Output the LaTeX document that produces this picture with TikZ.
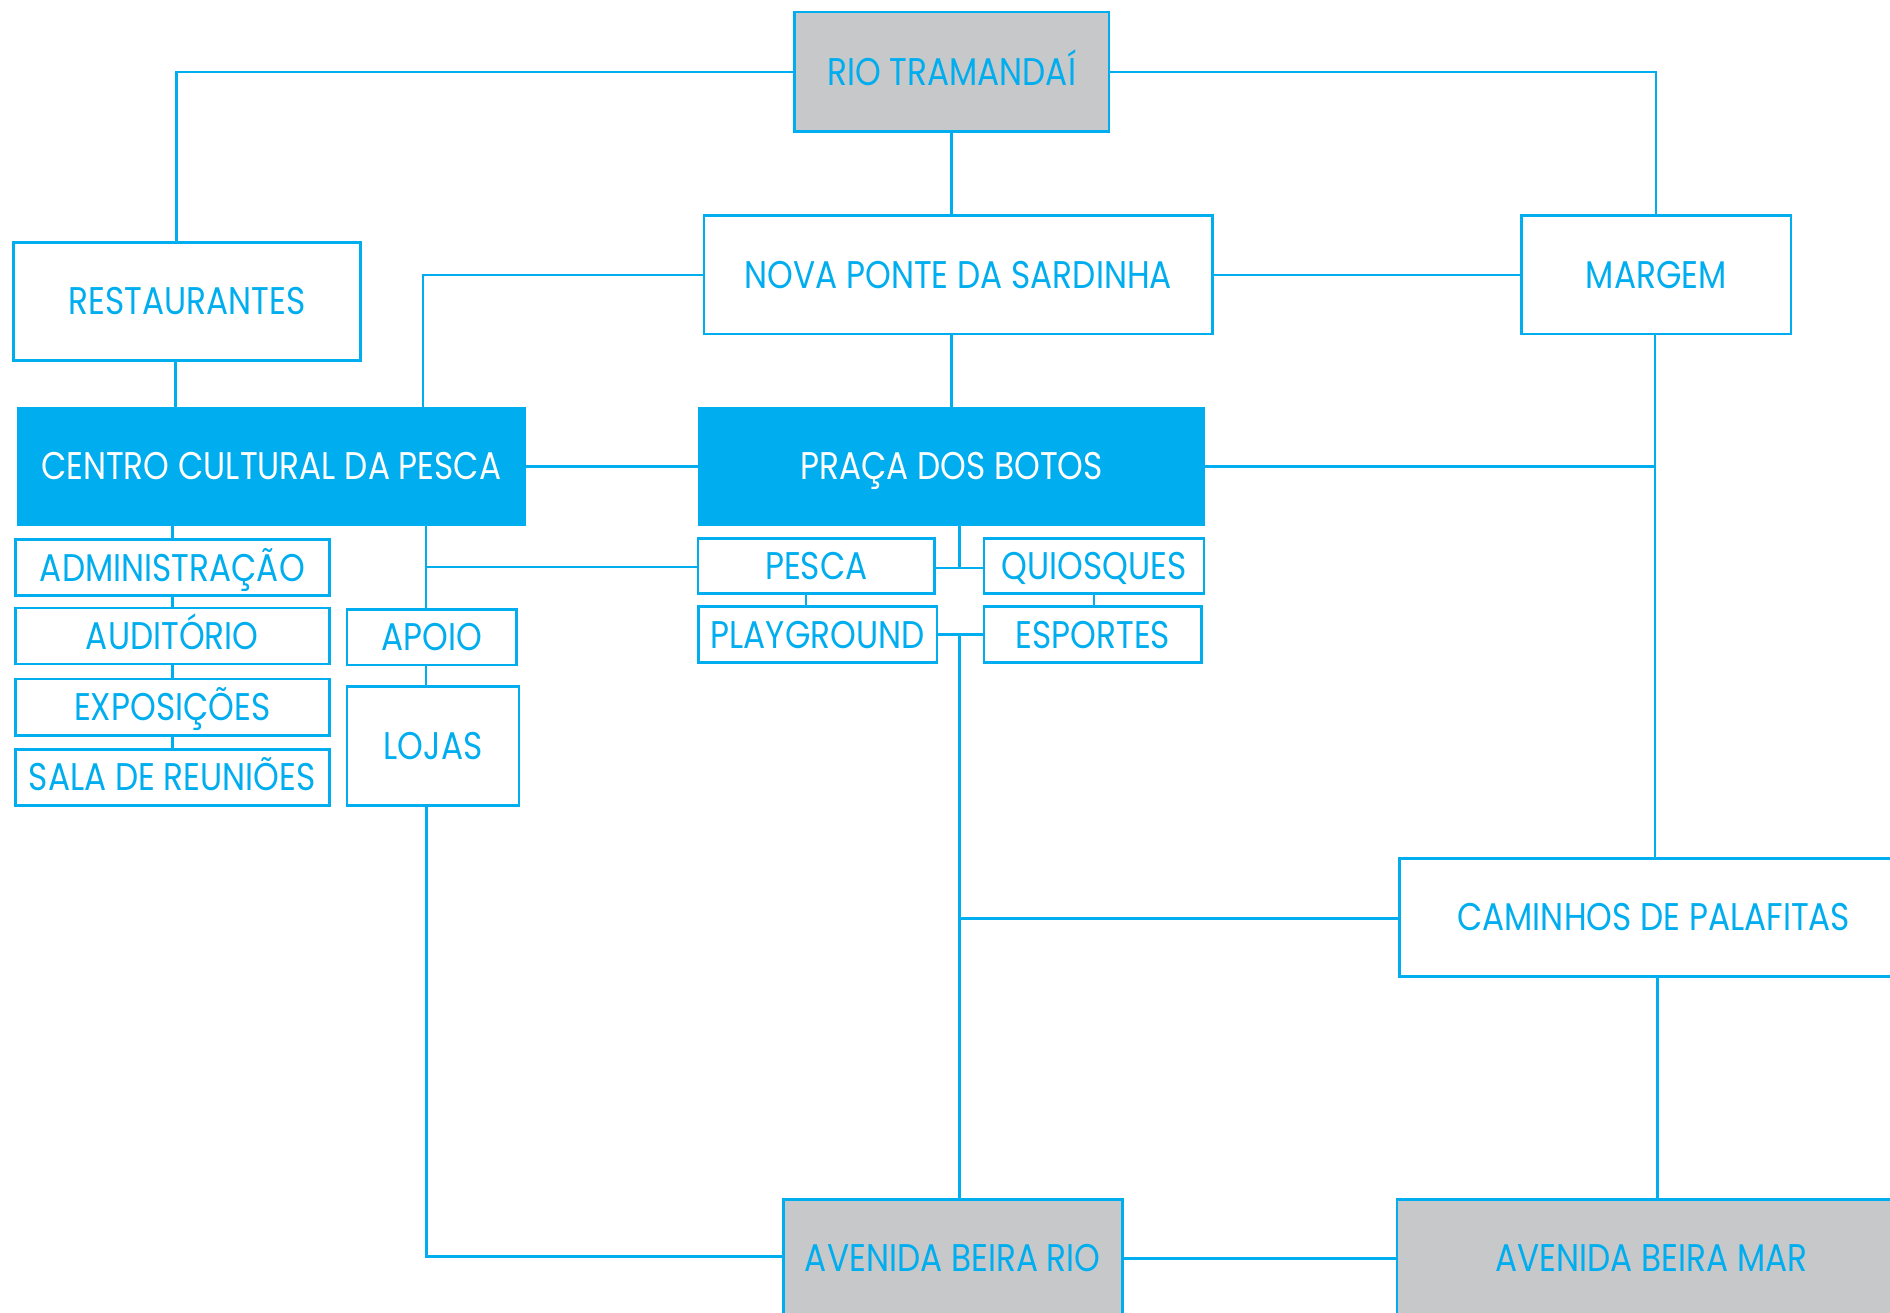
\documentclass[tikz,border=0pt]{standalone}
\usepackage{fontspec}
\setmainfont{Poppins}[FakeStretch=0.85]
\definecolor{cyanb}{HTML}{00AEEF}
\definecolor{greyb}{HTML}{C7C8CA}
\begin{document}
\begin{tikzpicture}[x=1pt,y=-1pt,
  every node/.style={inner sep=0pt,outer sep=0pt,font=\fontsize{32}{36}\selectfont,text height=22.3pt,text depth=0pt,anchor=center},
  wbox/.style={draw=cyanb,line width=2.2pt,fill=white,text=cyanb},
  gbox/.style={draw=cyanb,line width=2.2pt,fill=greyb,text=cyanb},
  bbox/.style={fill=cyanb,text=white},
  conn/.style={draw=cyanb,line width=2pt}]
\useasboundingbox (0,0) rectangle (1568,1089);
\clip (0,0) rectangle (1568,1089);
\fill[white] (0,0) rectangle (1568,1089);
% junction coordinates
\coordinate (jl) at (353.5,470.4);
\coordinate (jpq) at (796,471);
\coordinate (jpe) at (796,526.5);
\coordinate (jcam) at (796,762);
\coordinate (jmar) at (1373,385);
\coordinate (jres) at (146.5,60);
\coordinate (jcn) at (351,229);
\coordinate (jlo) at (354,1042.3);
% nodes
\node[gbox,minimum width=261,minimum height=99] (rio) at (789.5,59.5) {RIO TRAMANDAÍ};
\node[wbox,minimum width=422,minimum height=98] (nova) at (795,228) {NOVA PONTE DA SARDINHA};
\node[wbox,minimum width=223.5,minimum height=98] (margem) at (1374,228) {MARGEM};
\node[wbox,minimum width=288,minimum height=98] (res) at (155,250) {RESTAURANTES};
\node[bbox,minimum width=422,minimum height=98] (centro) at (225,387) {CENTRO CULTURAL DA PESCA};
\node[bbox,minimum width=421,minimum height=98] (praca) at (789.5,387) {PRAÇA DOS BOTOS};
\node[wbox,minimum width=260.5,minimum height=46.5] (adm) at (143,471) {ADMINISTRAÇÃO};
\node[wbox,minimum width=260.5,minimum height=46.5] (aud) at (143,527.7) {AUDITÓRIO};
\node[wbox,minimum width=260.5,minimum height=46.5] (expo) at (143,586.7) {EXPOSIÇÕES};
\node[wbox,minimum width=260.5,minimum height=46.5] (sala) at (143,644.8) {SALA DE REUNIÕES};
\node[wbox,minimum width=140.6,minimum height=46.2] (apoio) at (358.3,528.6) {APOIO};
\node[wbox,minimum width=142.6,minimum height=98.7] (lojas) at (359.3,619) {LOJAS};
\node[wbox,minimum width=196,minimum height=46] (pesca) at (677.2,469.5) {PESCA};
\node[wbox,minimum width=182.8,minimum height=46] (quiosq) at (907.6,469.5) {QUIOSQUES};
\node[wbox,minimum width=198,minimum height=46.4] (play) at (678.4,526.5) {PLAYGROUND};
\node[wbox,minimum width=180.8,minimum height=46.4] (esp) at (906.6,526.5) {ESPORTES};
\node[wbox,minimum width=422,minimum height=98] (cam) at (1372,761) {CAMINHOS DE PALAFITAS};
\node[gbox,minimum width=281,minimum height=98] (brio) at (790.5,1044) {AVENIDA BEIRA RIO};
\node[gbox,minimum width=422,minimum height=98] (bmar) at (1370,1044) {AVENIDA BEIRA MAR};
% connectors
\draw[conn] (rio.west) -| (jres |- res.north);
\draw[conn] (rio.east) -| (margem.north);
\draw[conn] (rio.south) -- (rio.south |- nova.north);
\draw[conn] (nova.east) -- (margem.west);
\draw[conn] (nova.west) -| (jcn |- centro.north);
\draw[conn] ([xshift=-9.5pt]res.south) -- ([xshift=-9.5pt]res.south |- centro.north);
\draw[conn] (rio.south |- nova.south) -- (rio.south |- praca.north);
\draw[conn] (centro.east) -- (praca.west);
\draw[conn] (praca.east) -| (jmar);
\draw[conn] (margem.south -| jmar) -- (jmar |- cam.north);
\draw[conn] (adm.north) -- (adm.north |- centro.south);
\draw[conn] (adm.south) -- (aud.north);
\draw[conn] (aud.south) -- (expo.north);
\draw[conn] (expo.south) -- (sala.north);
\draw[conn] (jl |- centro.south) -- (jl |- apoio.north);
\draw[conn] (jl |- apoio.south) -- (jl |- lojas.north);
\draw[conn] (jlo |- lojas.south) -- (jlo) -- (brio.west |- jlo);
\draw[conn] (jl) -- (jl -| pesca.west);
\draw[conn] (jpq |- praca.south) -- (jpq);
\draw[conn] (pesca.east |- jpq) -- (quiosq.west |- jpq);
\draw[conn] ([xshift=-8.7pt]pesca.south) -- ([xshift=-8.7pt]pesca.south |- play.north);
\draw[conn] (quiosq.south) -- (quiosq.south |- esp.north);
\draw[conn] (play.east) -- (esp.west);
\draw[conn] (jpe) -- (jpe |- brio.north);
\draw[conn] (jcam) -- (jcam -| cam.west);
\draw[conn] ([xshift=3pt]cam.south) -- ([xshift=3pt]cam.south |- bmar.north);
\draw[conn] (brio.east) -- (brio.east -| bmar.west);
\end{tikzpicture}
\end{document}
